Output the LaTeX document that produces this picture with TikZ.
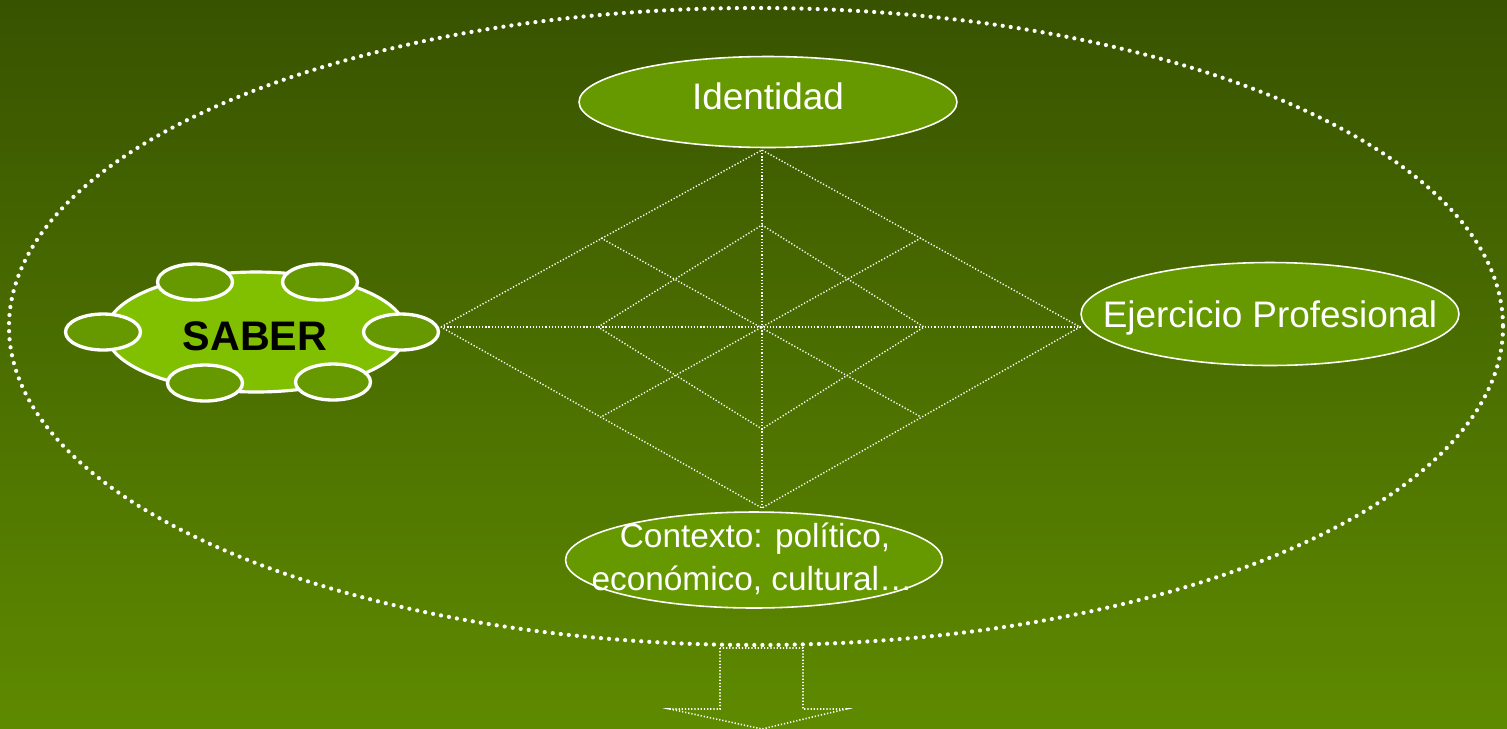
\documentclass[tikz,border=0pt]{standalone}
\usepackage{fontspec}
\setmainfont{Liberation Sans}
\usetikzlibrary{shapes.geometric}

\definecolor{bgtop}{RGB}{56,83,0}
\definecolor{bgbot}{RGB}{94,138,0}
\definecolor{bubblefill}{RGB}{102,153,0}
\definecolor{saberfill}{RGB}{128,192,0}

\tikzset{
  bubble/.style={ellipse, draw=white, line width=0.9pt, fill=bubblefill, inner sep=0pt},
  petal/.style={ellipse, draw=white, line width=1.9pt, fill=bubblefill, inner sep=0pt,
    minimum width=1.5cm, minimum height=0.72cm},
  txt/.style={text=white, inner sep=0pt, font=\fontsize{21}{25}\selectfont},
  smalltxt/.style={text=white, inner sep=0pt, font=\fontsize{19}{24}\selectfont},
  fine/.style={white, line width=0.8pt, dash pattern=on 0.7pt off 1.1pt},
  bigdots/.style={white, line width=2.4pt, line cap=round, dash pattern=on 0pt off 4.6pt},
}

\begin{document}
\begin{tikzpicture}[x=0.02cm, y=-0.02cm]
    % background
    \shade[top color=bgtop, bottom color=bgbot] (0,0) rectangle (1507,728);
    \useasboundingbox (0,0) rectangle (1507,728);

    % outer dotted ellipse
    \draw[bigdots] (756,326.5) ellipse [x radius=747, y radius=318.5];

    % points of the diamonds
    \coordinate (top) at (762,150);
    \coordinate (bot) at (762,508);
    \coordinate (lft) at (441,327);
    \coordinate (rgt) at (1080,327);
    \coordinate (ctr) at (762,327);
    \coordinate (ul) at (601,238);
    \coordinate (ur) at (921,238);
    \coordinate (ll) at (601,417);
    \coordinate (lr) at (921,417);
    \coordinate (itop) at (762,225);
    \coordinate (ibot) at (762,429);
    \coordinate (ilft) at (598,327);
    \coordinate (irgt) at (924,327);

    % diamonds and crossing lines
    \draw[fine] (lft) -- (top) -- (rgt) -- (bot) -- cycle;
    \draw[fine] (ilft) -- (itop) -- (irgt) -- (ibot) -- cycle;
    \draw[fine] (lft) -- (rgt);
    \draw[fine] (top) -- (bot);
    \draw[fine] (ul) -- (lr);
    \draw[fine] (ur) -- (ll);

    % Identidad
    \node[bubble, minimum width=7.56cm, minimum height=1.82cm] (ident) at (768,102) {};
    \node[txt, anchor=base] (identtxt) at (768,109) {Identidad};

    % Ejercicio Profesional
    \node[bubble, minimum width=7.56cm, minimum height=2.06cm] (ejer) at (1270,314) {};
    \node[txt, anchor=base] (ejertxt) at (1270,327) {Ejercicio Profesional};

    % Contexto
    \node[bubble, minimum width=7.54cm, minimum height=1.92cm] (ctx) at (754,560) {};
    \node[smalltxt, anchor=base] (ctxa) at (755,547) {Contexto: político,};
    \node[smalltxt, anchor=base] (ctxb) at (752,590) {económico, cultural…};

    % SABER with its petals
    \node[ellipse, draw=white, line width=1.8pt, fill=saberfill, inner sep=0pt,
      minimum width=6.0cm, minimum height=2.4cm] (saber) at (256,332) {};
    \node[petal] (ptl) at (195,282) {};
    \node[petal] (ptr) at (320,282) {};
    \node[petal] (pl) at (103,332) {};
    \node[petal] (pr) at (401,332) {};
    \node[petal] (pbl) at (205,383) {};
    \node[petal] (pbr) at (333,382) {};
    \node[anchor=base, inner sep=0pt, font=\fontsize{23.5}{28}\selectfont\bfseries] (sabertxt) at (255,350) {SABER};

    % arrow below
    \draw[fine, line width=0.9pt] (720,648) -- (720,709) -- (670,709) -- (762,729)
      -- (846,709) -- (803,709) -- (803,648) -- cycle;
\end{tikzpicture}
\end{document}
